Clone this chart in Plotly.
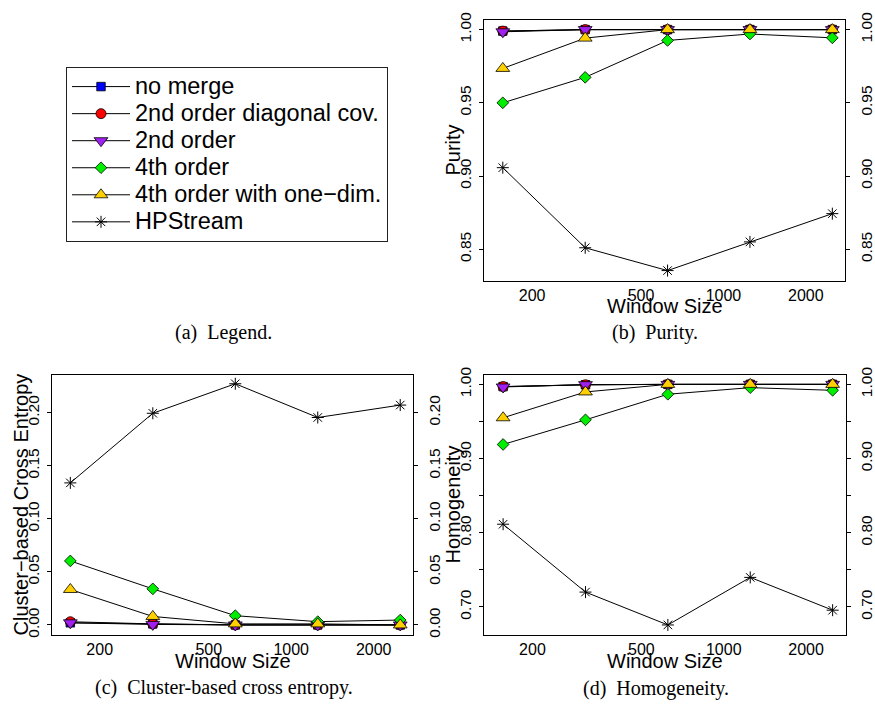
import plotly.graph_objects as go

# ---------------- data ----------------
window_sizes = [156.25, 312.5, 625, 1250, 2500]

series_names = ["no merge", "2nd order diagonal cov.", "2nd order",
                "4th order", "4th order with one\u2212dim.", "HPStream"]

purity_no_merge = [0.999, 1.0, 1.0, 1.0, 1.0]
purity_diag = [0.999, 1.0, 1.0, 1.0, 1.0]
purity_second = [0.9985, 1.0, 1.0, 1.0, 1.0]
purity_fourth = [0.950, 0.9674, 0.9926, 0.997, 0.9944]
purity_fourth_1d = [0.9735, 0.9942, 1.0, 1.0, 1.0]
purity_hpstream = [0.9057, 0.851, 0.8354, 0.855, 0.8743]

ce_no_merge = [0.002, 0.001, 0.0, 0.0, 0.0]
ce_diag = [0.003, 0.001, 0.0, 0.0, 0.0]
ce_second = [0.002, 0.0005, 0.0, 0.0, 0.0]
ce_fourth = [0.0603, 0.034, 0.0087, 0.0031, 0.0046]
ce_fourth_1d = [0.0334, 0.008, 0.001, 0.001, 0.0]
ce_hpstream = [0.1338, 0.1994, 0.2272, 0.1954, 0.2071]

homog_no_merge = [0.997, 0.9995, 1.0, 1.0, 1.0]
homog_diag = [0.997, 0.9995, 1.0, 1.0, 1.0]
homog_second = [0.9965, 0.9996, 1.0, 1.0, 1.0]
homog_fourth = [0.919, 0.9522, 0.9867, 0.9956, 0.992]
homog_fourth_1d = [0.955, 0.9898, 1.0, 1.0, 1.0]
homog_hpstream = [0.8115, 0.72, 0.6757, 0.7398, 0.6956]

x_tickvals = [200, 500, 1000, 2000]
x_ticktext = ["200", "500", "1000", "2000"]

purity_tickvals = [0.85, 0.90, 0.95, 1.00]
purity_ticktext = ["0.85", "0.90", "0.95", "1.00"]
ce_tickvals = [0.00, 0.05, 0.10, 0.15, 0.20]
ce_ticktext = ["0.00", "0.05", "0.10", "0.15", "0.20"]
homog_tickvals = [0.70, 0.75, 0.80, 0.85, 0.90, 0.95, 1.00]
homog_ticktext = ["0.70", "", "0.80", "", "0.90", "", "1.00"]

captions = ["(a)\u00a0 Legend.", "(b)\u00a0 Purity.",
            "(c)\u00a0 Cluster-based cross entropy.", "(d)\u00a0 Homogeneity."]

# ---------------- styles ----------------
W, H = 875, 708
styles = [
    dict(symbol="square", color="#0000FF", size=8.5),
    dict(symbol="circle", color="#FF0000", size=10),
    dict(symbol="triangle-down", color="#A020F0", size=12),
    dict(symbol="diamond", color="#00EE00", size=9),
    dict(symbol="triangle-up", color="#FFD000", size=12),
    dict(symbol="asterisk-open", color="black", size=10),
]

def px_x(p):
    return p / W

def px_y(p):
    return 1 - p / H

panels = [
    ([purity_no_merge, purity_diag, purity_second, purity_fourth, purity_fourth_1d, purity_hpstream],
     "x", "y", "y4", True),
    ([ce_no_merge, ce_diag, ce_second, ce_fourth, ce_fourth_1d, ce_hpstream],
     "x2", "y2", "y5", False),
    ([homog_no_merge, homog_diag, homog_second, homog_fourth, homog_fourth_1d, homog_hpstream],
     "x3", "y3", "y6", False),
]

fig = go.Figure()
for data, xa, ya, ya_r, show in panels:
    for name, vals, st in zip(series_names, data, styles):
        if st["symbol"] == "asterisk-open":
            marker = dict(symbol=st["symbol"], size=st["size"], color="black",
                          line=dict(color="black", width=1))
        else:
            marker = dict(symbol=st["symbol"], size=st["size"], color=st["color"],
                          line=dict(color="black", width=0.8))
        fig.add_trace(go.Scatter(
            x=window_sizes, y=vals, xaxis=xa, yaxis=ya, mode="lines+markers",
            name='<span style="font-size:23.5px">' + name + '</span>',
            line=dict(color="black", width=1), marker=marker,
            showlegend=show, hoverinfo="skip"))
    # invisible companion trace so the right-hand axis is drawn
    fig.add_trace(go.Scatter(x=window_sizes, y=data[-1], xaxis=xa, yaxis=ya_r,
                             mode="lines", line=dict(width=0), opacity=0,
                             showlegend=False, hoverinfo="skip"))

tick_font = dict(family="Liberation Sans, Arial, sans-serif", size=16, color="black")
ytick_font = dict(family="Liberation Sans, Arial, sans-serif", size=15.5, color="black")

def xaxis_cfg(x0, x1, anchor, rng):
    return dict(domain=[px_x(x0), px_x(x1)], anchor=anchor, type="log", range=rng,
                tickvals=x_tickvals, ticktext=x_ticktext, ticks="", ticklen=0,
                showgrid=False, zeroline=False, showline=True, mirror=True,
                linecolor="black", linewidth=1, tickfont=tick_font)

def yaxis_cfg(y0, y1, anchor, rng, tv, tt):
    return dict(domain=[px_y(y1), px_y(y0)], anchor=anchor, range=rng,
                tickvals=tv, ticktext=tt, ticks="outside", ticklen=4, tickwidth=1,
                tickcolor="black", tickangle=-90, showgrid=False, zeroline=False,
                showline=True, mirror=True, linecolor="black", linewidth=1,
                tickfont=ytick_font, ticklabelstandoff=2)

def yaxis_right(over, anchor, rng, tv, tt):
    return dict(overlaying=over, side="right", anchor=anchor, range=rng,
                tickvals=tv, ticktext=tt, ticks="outside", ticklen=4, tickwidth=1,
                tickcolor="black", tickangle=-90, showgrid=False, zeroline=False,
                showline=False, tickfont=ytick_font, ticklabelstandoff=3)

pur_rng = [0.8285, 1.0067]
ce_rng = [-0.0093, 0.2359]
hom_rng = [0.6624, 1.0133]

fig.update_layout(
    width=W, height=H, margin=dict(l=0, r=0, t=0, b=0),
    paper_bgcolor="white", plot_bgcolor="white", hovermode=False,
    xaxis=xaxis_cfg(489, 854, "y", [2.125, 3.445]),
    yaxis=yaxis_cfg(12, 277, "x", pur_rng, purity_tickvals, purity_ticktext),
    yaxis4=yaxis_right("y", "x", pur_rng, purity_tickvals, purity_ticktext),
    xaxis2=xaxis_cfg(52.3, 417.7, "y2", [2.126, 3.446]),
    yaxis2=yaxis_cfg(372.3, 636.7, "x2", ce_rng, ce_tickvals, ce_ticktext),
    yaxis5=yaxis_right("y2", "x2", ce_rng, ce_tickvals, ce_ticktext),
    xaxis3=xaxis_cfg(489.3, 854.3, "y3", [2.125, 3.445]),
    yaxis3=yaxis_cfg(372.3, 636.7, "x3", hom_rng, homog_tickvals, homog_ticktext),
    yaxis6=yaxis_right("y3", "x3", hom_rng, homog_tickvals, homog_ticktext),
    legend=dict(x=px_x(66.7), y=px_y(60), xanchor="left", yanchor="top",
                bordercolor="#222", borderwidth=1, bgcolor="white",
                font=dict(family="Liberation Sans, Arial, sans-serif", size=18.5, color="black"),
                itemwidth=58, traceorder="normal"),
)

title_font = dict(family="Liberation Sans, Arial, sans-serif", size=20, color="black")
cap_font = dict(family="Liberation Serif, Times New Roman, serif", size=20, color="black")

annotations = [
    dict(text="Window Size", x=px_x(671.5), y=px_y(303), font=title_font),
    dict(text="Window Size", x=px_x(235), y=px_y(663), font=title_font),
    dict(text="Window Size", x=px_x(671.8), y=px_y(663), font=title_font),
    dict(text="Purity", x=px_x(458), y=px_y(144.5), font=title_font, textangle=-90),
    dict(text="Cluster\u2212based Cross Entropy", x=px_x(21), y=px_y(504.5),
         font=title_font, textangle=-90),
    dict(text="Homogeneity", x=px_x(457.5), y=px_y(504.5), font=title_font, textangle=-90),
    dict(text=captions[0], x=px_x(225.5), y=px_y(329.5), font=cap_font),
    dict(text=captions[1], x=px_x(662), y=px_y(329.5), font=cap_font),
    dict(text=captions[2], x=px_x(226), y=px_y(690), font=cap_font),
    dict(text=captions[3], x=px_x(662.5), y=px_y(691), font=cap_font),
]
for a in annotations:
    a.update(xref="paper", yref="paper", showarrow=False, xanchor="center", yanchor="middle")
fig.update_layout(annotations=annotations)

page_fix = (
    "document.documentElement.style.margin='0';"
    "document.documentElement.style.padding='0';"
    "document.body.style.margin='0';document.body.style.padding='0';"
    "document.body.style.overflow='hidden';"
    "var gd=document.getElementById('{plot_id}');"
    "gd.style.position='fixed';gd.style.left='0px';gd.style.top='0px';"
)
fig.write_html("out.html", config={"displayModeBar": False}, post_script=page_fix)
